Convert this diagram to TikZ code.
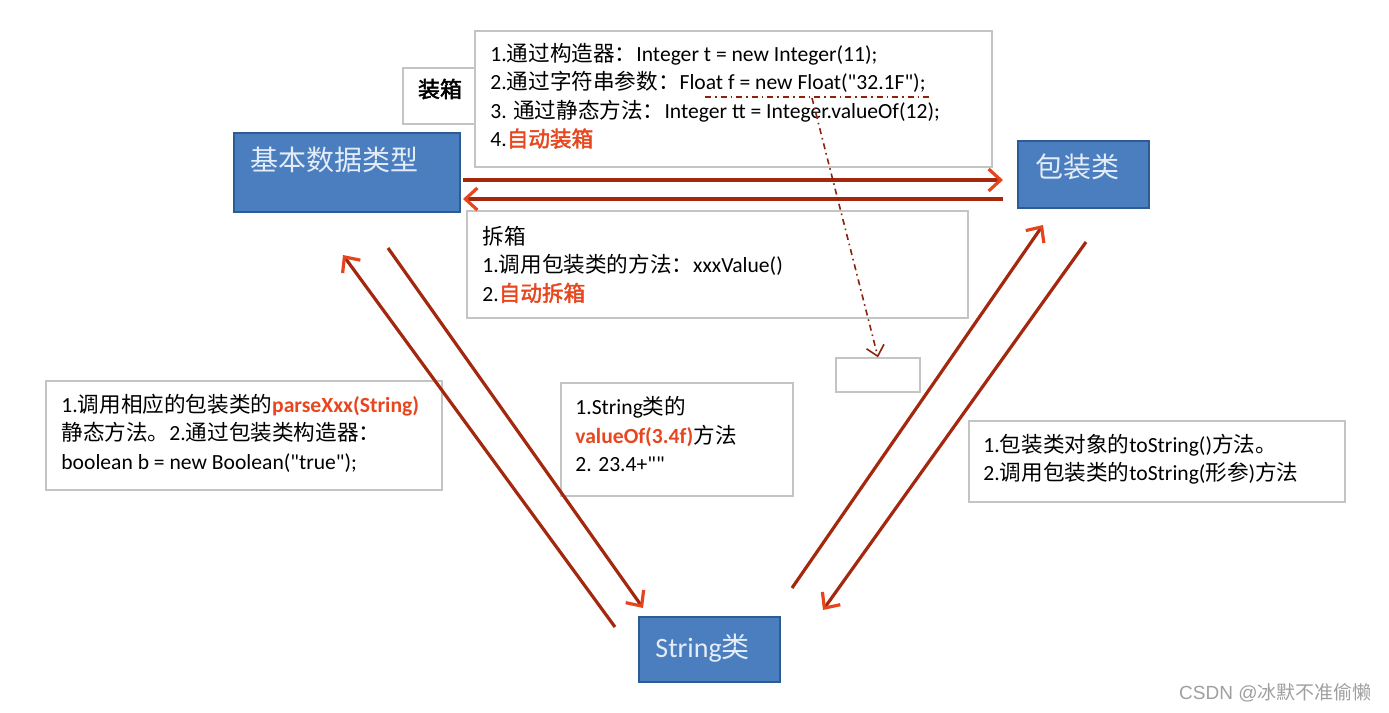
\documentclass[tikz,border=0pt]{standalone}
\usepackage{xcolor}
\usepackage{fontspec}
\setmainfont{Carlito}[Ligatures=TeXOff]
\newfontfamily\cjk[AutoFakeBold=2]{Noto Sans CJK SC}
\newfontfamily\wmfont{Liberation Sans}
\usepackage{tikz}
\usetikzlibrary{arrows.meta,positioning}
\definecolor{boxblue}{HTML}{4A7EBF}
\definecolor{boxedge}{HTML}{2D5C94}
\definecolor{lbltext}{HTML}{E4ECF7}
\definecolor{shaft}{HTML}{A3280E}
\definecolor{tipred}{HTML}{E5451C}
\definecolor{hilite}{HTML}{E8461E}
\definecolor{frame}{HTML}{C4C4C4}
\newcommand\zh[1]{{\cjk #1}}
\newcommand\hot[1]{{\color{hilite}\bfseries #1}}

\begin{document}
\begin{tikzpicture}[x=0.5pt, y=-0.5pt,
  typebox/.style={draw=boxedge,line width=0.9pt,fill=boxblue,inner sep=0pt},
  typelbl/.style={text=lbltext,anchor=west,inner sep=0pt,font=\fontsize{14}{16}\selectfont},
  notebox/.style={draw=frame,line width=0.6pt,fill=white,inner sep=0pt},
  notetxt/.style={anchor=west,align=left,inner sep=0pt,font=\fontsize{10.8}{14.2}\selectfont},
  conv/.style={draw=shaft,line width=1.6pt,-{Straight Barb[length=6pt,width=11pt,color=tipred,line width=1.6pt]}},
  hint/.style={draw=shaft!85!black,line width=0.8pt,dash dot}]
  \useasboundingbox (0,0) rectangle (1389,713);

  % the three kinds of type
  \node[typebox,minimum width=113pt,minimum height=39.5pt] (prim) at (347,172.5) {};
  \node[typelbl] (primlbl) at (250,160) {\zh{基本数据类型}};
  \node[typebox,minimum width=65.5pt,minimum height=33.5pt] (wrap) at (1083.5,174.5) {};
  \node[typelbl] (wraplbl) at (1035,167) {\zh{包装类}};
  \node[typebox,minimum width=70.5pt,minimum height=32.5pt] (str) at (709.5,649.5) {};
  \node[typelbl] (strlbl) at (655,648) {String\zh{类}};

  % boxing / unboxing notes
  \node[notebox,minimum width=258.5pt,minimum height=68pt] (boxing) at (733.5,99) {};
  \node[notetxt] (boxingtxt) at (490,96)
    {1.\zh{通过构造器：}Integer t = new Integer(11);\\
     2.\zh{通过字符串参数：}Float f = new Float("32.1F");\\
     3. \zh{通过静态方法：}Integer tt = Integer.valueOf(12);\\
     4.\hot{\zh{自动装箱}}};
  \node[notebox,minimum width=36pt,minimum height=28pt] (boxlbl) at (439,96) {};
  \node[inner sep=0pt,font=\fontsize{11}{13}\selectfont\bfseries] (boxlbltxt) at (440,89) {\zh{装箱}};
  \node[notebox,minimum width=250.5pt,minimum height=53.5pt] (unboxing) at (717.5,264.5) {};
  \node[notetxt] (unboxingtxt) at (482,264.5)
    {\zh{拆箱}\\
     1.\zh{调用包装类的方法：}xxxValue()\\
     2.\hot{\zh{自动拆箱}}};
  \node[notebox,minimum width=42pt,minimum height=17pt] (slot) at (878,375) {};

  % string conversions
  \node[notebox,minimum width=198pt,minimum height=54.5pt] (parse) at (244,435.5) {};
  \node[notetxt] (parsetxt) at (61,433)
    {1.\zh{调用相应的包装类的}\hot{parseXxx(String)}\\
     \zh{静态方法。}2.\zh{通过包装类构造器：}\\
     boolean b = new Boolean("true");};
  \node[notebox,minimum width=116pt,minimum height=56.5pt] (valueof) at (677,439.5) {};
  \node[notetxt] (valueoftxt) at (575,434)
    {1.String\zh{类的}\\
     \hot{valueOf(3.4f)}\zh{方法}\\
     2. 23.4+""};
  \node[notebox,minimum width=188pt,minimum height=40.5pt] (tostr) at (1157,461.5) {};
  \node[notetxt] (tostrtxt) at (983,459)
    {1.\zh{包装类对象的}toString()\zh{方法。}\\
     2.\zh{调用包装类的}toString(\zh{形参})\zh{方法}};

  % arrow ends
  \coordinate (toWrapS) at (463,180);  \coordinate (toWrapE) at (1003,180);
  \coordinate (toPrimS) at (1003,199); \coordinate (toPrimE) at (463,199);
  \coordinate (strPrimS) at (615,627); \coordinate (strPrimE) at (343,255);
  \coordinate (primStrS) at (388,248); \coordinate (primStrE) at (643,608);
  \coordinate (strWrapS) at (792,588); \coordinate (strWrapE) at (1043,225);
  \coordinate (wrapStrS) at (1086,242); \coordinate (wrapStrE) at (823,610);
  \coordinate (hintL) at (705,97); \coordinate (hintR) at (930,97);
  \coordinate (hintS) at (812,98);

  \draw[conv] (toWrapS) -- (toWrapE);
  \draw[conv] (toPrimS) -- (toPrimE);
  \draw[conv] (strPrimS) -- (strPrimE);
  \draw[conv] (primStrS) -- (primStrE);
  \draw[conv] (strWrapS) -- (strWrapE);
  \draw[conv] (wrapStrS) -- (wrapStrE);

  \draw[hint] (hintL) -- (hintR);
  \draw[hint,-{Straight Barb[length=5pt,width=9pt,line width=0.8pt]}] (hintS) -- (slot.north);

  \node[anchor=east,inner sep=0pt,text=gray!75,font=\fontsize{9.5}{11}\selectfont] (mark) at (1372,693)
    {\wmfont CSDN @\zh{冰默不准偷懒}};
\end{tikzpicture}
\end{document}
